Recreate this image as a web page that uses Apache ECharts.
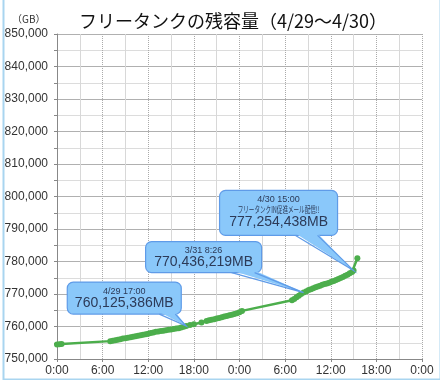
<!DOCTYPE html>
<html><head><meta charset="utf-8">
<script src="https://cdn.jsdelivr.net/npm/echarts@6/dist/echarts.min.js"></script>
<style>html,body{margin:0;padding:0;background:#fff}#c{width:440px;height:380px}</style>
</head><body><div id="c"></div>
<script>
// elapsed hours from 4/29 0:00
const hours = [0.0,0.3,0.6,7.0,7.33,7.67,8.0,8.33,8.67,9.0,9.33,9.67,10.0,10.33,10.67,11.0,11.33,11.67,12.0,12.33,12.67,13.0,13.33,13.67,14.0,14.33,14.67,15.0,15.33,15.67,16.0,16.33,16.67,17.0,17.5,18.0,19.0,19.67,20.0,20.33,20.67,21.0,21.33,21.67,22.0,22.33,22.67,23.0,23.33,23.67,24.0,24.33,30.9,31.2,31.5,31.8,32.1,32.43,32.8,33.1,33.4,33.7,34.0,34.3,34.6,34.9,35.2,35.5,35.8,36.1,36.4,36.7,37.0,37.3,37.6,37.9,38.2,38.5,38.8,39.0,39.5];
const values = [754500,754550,754600,755500,755650,755800,755950,756100,756280,756420,756560,756700,756850,757000,757170,757330,757480,757640,757800,757980,758150,758350,758480,758600,758730,758850,758970,759100,759220,759360,759500,759680,759900,760125,760450,760700,761250,761700,761900,762050,762250,762450,762650,762850,763050,763250,763450,763650,763850,764100,764400,764800,768100,768500,769000,769500,770000,770436,770850,771200,771500,771750,772050,772300,772550,772850,773050,773250,773500,773750,774000,774300,774600,774900,775250,775600,775950,776350,776800,777254,781000];

const yTicks = [750000,760000,770000,780000,790000,800000,810000,820000,830000,840000,850000];
const xTickLabels = ['0:00','6:00','12:00','18:00','0:00','6:00','12:00','18:00','0:00'];

const annoHours = [17.0, 32.43, 39.0];
const annoValues = [760125, 770436, 777254];
const annoDates = ['4/29 17:00', '3/31 8:26', '4/30 15:00'];
const annoNotes = ['', '', 'フリータンクIN促進メール配信!!'];
const annoLabels = ['760,125,386MB', '770,436,219MB', '777,254,438MB'];

// callout box offsets relative to the pointed data point (style only)
const boxStyle = [
  {l:-119, r:-5, t:-44, b:-12, t1:-27, t2:-11},
  {l:-158, r:-42, t:-51, b:-20, t1:-72, t2:-49},
  {l:-134, r:-16, t:-80, b:-35, t1:-58, t2:-36}
];

const chart = echarts.init(document.getElementById('c'), null, {renderer:'canvas'});
const data = hours.map((h,i)=>[h, values[i]]);
const numFont = '"Liberation Sans", Arial, sans-serif';
const jpFont = '"Noto Sans CJK JP", sans-serif';

chart.setOption({
  animation:false,
  backgroundColor:'#fff',
  title:{
    text:'フリータンクの残容量（4/29～4/30）',
    left:228, top:7, textAlign:'center',
    textStyle:{fontFamily:jpFont, fontSize:18, fontWeight:'normal', color:'#111'}
  },
  grid:{left:57, right:18, top:34, bottom:21, containLabel:false},
  xAxis:{
    type:'value', min:0, max:48, interval:6,
    axisLine:{show:true, lineStyle:{color:'#888', width:1}},
    axisTick:{show:true, length:3, lineStyle:{color:'#888'}},
    minorTick:{show:false, splitNumber:2},
    axisLabel:{fontFamily:numFont, fontSize:12, color:'#333', margin:6,
      formatter:(v)=>xTickLabels[Math.round(v/6)]},
    splitLine:{show:true, lineStyle:{color:'#aaa', type:[1,1], width:1}},
    minorSplitLine:{show:true, lineStyle:{color:'#d8d8d8', width:1}}
  },
  yAxis:{
    type:'value', min:750000, max:850000, interval:10000,
    axisLine:{show:true, lineStyle:{color:'#888'}},
    axisTick:{show:true, length:3, lineStyle:{color:'#888'}},
    minorTick:{show:true, splitNumber:2, length:3, lineStyle:{color:'#888'}},
    axisLabel:{fontFamily:numFont, fontSize:12, color:'#333', margin:9,
      formatter:(v)=>{const i=yTicks.indexOf(v); return (i>=0?yTicks[i]:v).toLocaleString('en-US');}},
    splitLine:{show:true, lineStyle:{color:'#b0b0b0', width:1}},
    minorSplitLine:{show:true, lineStyle:{color:'#dcdcdc', width:1}}
  },
  series:[{
    type:'line', data:data, symbol:'circle', symbolSize:6, showSymbol:true,
    lineStyle:{color:'#4cae4c', width:2.5},
    itemStyle:{color:'#4cae4c'},
    z:3
  }]
});

const FILL = 'rgb(138,200,250)', STROKE = 'rgb(95,155,232)';
const graphics = [
  {type:'rect', left:1, top:-4, shape:{width:437, height:381}, style:{fill:'none', stroke:'#a9d5f0', lineWidth:2}, z:1, silent:true},
  {type:'text', left:12, top:14, style:{text:'（GB）', font:'10px '+jpFont, fill:'#333'}, z:10}
];
annoHours.forEach((h,i)=>{
  const p = chart.convertToPixel({gridIndex:0}, [h, annoValues[i]]);
  const s = boxStyle[i];
  const ax = p[0], ay = p[1];
  const x0=ax+s.l, x1=ax+s.r, y0=ay+s.t, y1=ay+s.b;
  const b1=ax+s.t1, b2=ax+s.t2;
  const cx = (x0+x1)/2;
  graphics.push({type:'rect', shape:{x:x0, y:y0, width:x1-x0, height:y1-y0, r:6}, style:{fill:FILL, stroke:STROKE, lineWidth:1.2}, z:20});
  graphics.push({type:'polygon', shape:{points:[[b1,y1-2],[ax,ay],[b2,y1-2]]}, style:{fill:FILL}, z:21});
  graphics.push({type:'polyline', shape:{points:[[b1,y1],[ax,ay],[b2,y1]]}, style:{fill:null, stroke:STROKE, lineWidth:1.2}, z:22});
  const lines = [];
  lines.push({text:annoDates[i], font:'9px '+numFont, dy:9});
  if (annoNotes[i]) lines.push({text:annoNotes[i], font:'9px '+jpFont, dy:19, sx:0.62});
  lines.push({text:annoLabels[i], font:'14px '+numFont, dy: annoNotes[i]?32:21});
  lines.forEach(L=>{
    const ty = y0+L.dy;
    graphics.push({type:'text', x:cx, y:ty, scaleX:L.sx||1, originX:0, originY:0,
      style:{text:L.text, font:L.font, fill:'#2c3a58', align:'center', verticalAlign:'middle', x:0, y:0}, z:23});
  });
});
chart.setOption({graphic:graphics});
</script></body></html>
